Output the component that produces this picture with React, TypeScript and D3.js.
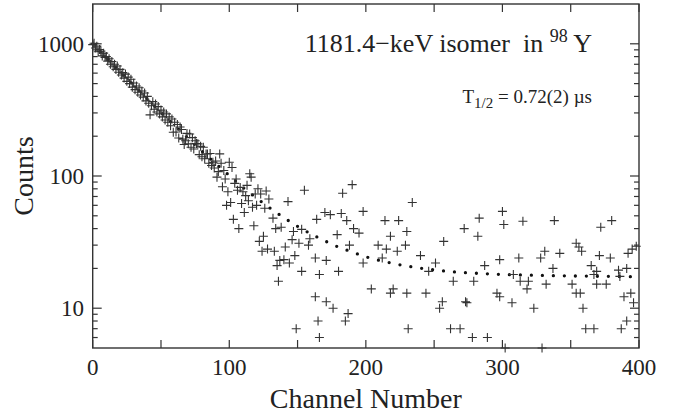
import React from "react";
import * as d3 from "d3";

const W = 684;
const H = 415;

// counts per channel, channels 0..129 (dense decay region)
const decayCounts = [
  985, 1010, 930, 960, 870, 905, 880, 810, 850, 790,
  800, 740, 770, 700, 735, 670, 700, 640, 680, 610,
  640, 580, 605, 550, 590, 520, 560, 500, 540, 470,
  505, 450, 480, 430, 465, 410, 440, 395, 425, 370,
  400, 355, 290, 340, 365, 320, 350, 305, 335, 295,
  315, 280, 305, 265, 295, 255, 280, 240, 270, 214,
  255, 215, 245, 194, 235, 225, 190, 173, 185, 210,
  175, 208, 165, 195, 160, 185, 176, 175, 145, 168,
  140, 165, 135, 147, 147, 125, 148, 120, 127, 115,
  130, 98, 108, 147, 125, 83, 110, 95, 60, 76,
  127, 63, 116, 47, 88, 95, 78, 40, 82, 62,
  76, 53, 71, 85, 65, 104, 98, 58, 42, 73,
  60, 80, 32, 73, 27, 35, 57, 77, 28, 67,
];

// sparse tail region
const tailChannels = [
  132, 134, 138, 147, 153, 146, 159, 151, 158, 141, 133, 148, 137, 140, 135, 144, 136, 153, 143, 155,
  166, 163, 171, 164, 170, 174, 182, 186, 179, 188, 180, 183, 190, 198, 191, 195, 198, 209, 212, 214,
  215, 218, 223, 224, 229, 230, 234, 240, 251, 246, 257, 264, 272, 282, 283, 279, 204, 218, 220, 230,
  244, 256, 254, 273, 163, 171, 176, 187, 165, 185, 149, 166, 231, 262, 269, 278, 289, 302, 329, 307,
  323, 359, 361, 367, 387, 391, 396, 300, 301, 315, 338, 372, 380, 354, 356, 358, 331, 328, 342, 312,
  298, 287, 337, 365, 371, 379, 369, 367, 385, 391, 392, 395, 398, 308, 313, 318, 319, 332, 351, 369,
  376, 386, 296, 354, 357, 394, 274, 298, 389,
];
const tailCounts = [
  48, 40, 41, 38, 39.5, 33, 33.5, 31, 30, 29, 27, 25, 23, 23.3, 21, 22, 16, 19, 64, 78,
  18, 24, 23, 47, 53, 51, 52, 46, 36, 30, 19, 74, 86, 54, 40, 37, 22, 30, 24, 46,
  28, 35, 27, 46, 30, 38, 63, 25, 22, 19, 32, 16, 40, 35, 48, 16, 14, 13, 14, 13,
  13, 11.2, 10, 11.2, 12.2, 11.2, 10, 9.1, 8, 8, 7, 6, 7, 7, 7, 6, 6, 5, 5, 11,
  10, 10, 7, 7, 7, 8, 11, 54, 43, 45.5, 46, 41, 46, 31, 29, 27, 27, 24, 26, 24,
  23.3, 21, 20, 21, 25, 24, 19, 18, 19.4, 20, 26, 28, 29.4, 18, 16, 14, 16, 15.2, 15.2, 15.2,
  15.2, 17.4, 13, 13, 13, 13, 11, 12.2, 12.2,
];

// fitted decay curve
const fitChannels = [0, 10, 20, 30, 40, 50, 60, 70, 80, 90, 100, 110, 120, 130, 140, 150, 160, 170, 180, 190, 200, 220, 240, 260, 280, 300, 320, 340, 360, 380, 400];
const fitCounts = [1000, 785, 617, 486, 383, 303, 241, 192, 154, 124, 101, 82, 68, 57, 48.4, 41.6, 36.4, 32.3, 29, 26.6, 24.5, 21.8, 20.1, 19, 18.4, 18, 17.8, 17.6, 17.5, 17.4, 17.3];

const xTickLabels = [0, 100, 200, 300, 400];
const yTickLabels = [10, 100, 1000];

const L = 92.7, R = 639, T = 4, B = 348;
const ink = "#333";
const textCol = "#222";
const font = "'Liberation Serif', 'Times New Roman', serif";

export default function App() {
  const x = d3.scaleLinear().domain([0, 400]).range([L, R]);
  const y = d3.scaleLog().domain([5, 2000]).range([B, T]);

  const points: [number, number][] = [
    ...decayCounts.map((c, i) => [i, c] as [number, number]),
    ...tailChannels.map((ch, i) => [ch, tailCounts[i]] as [number, number]),
  ];

  const s = 4.5;
  const crossPath = points
    .map(([ch, c]) => {
      const px = x(ch), py = y(c);
      return `M${px - s},${py}H${px + s}M${px},${py - s}V${py + s}`;
    })
    .join("");

  const fitLine = d3
    .line<number>()
    .x((_, i) => x(fitChannels[i]))
    .y((d) => y(d))
    .curve(d3.curveMonotoneX)(fitCounts) as string;

  const xMinor = x.ticks(8);
  const yAll = y.ticks().filter((v) => v > 5 && v < 2000);
  const isMajor = (v: number) => yTickLabels.includes(v);

  return (
    <svg width={W} height={H} style={{ position: "absolute", left: 0, top: 0, background: "#fff" }} fontFamily={font}>
      <rect x={0} y={0} width={W} height={H} fill="#fff" />
      {/* fit curve */}
      <path d={fitLine} fill="none" stroke="#111" strokeWidth={3.3} strokeLinecap="round" strokeDasharray="0 11" />
      {/* data crosses */}
      <path d={crossPath} fill="none" stroke={ink} strokeWidth={1.1} />
      {/* frame */}
      <rect x={L} y={T} width={R - L} height={B - T} fill="none" stroke={ink} strokeWidth={1.4} />
      {/* x ticks bottom & top */}
      {xMinor.map((v) => (
        <g key={"xt" + v}>
          <line x1={x(v)} x2={x(v)} y1={B} y2={B - 8} stroke={ink} strokeWidth={1.2} />
          <line x1={x(v)} x2={x(v)} y1={T} y2={T + 8} stroke={ink} strokeWidth={1.2} />
        </g>
      ))}
      {/* y ticks left & right */}
      {yAll.map((v) => {
        const len = isMajor(v) ? 9 : 5;
        return (
          <g key={"yt" + v}>
            <line x1={L} x2={L + len} y1={y(v)} y2={y(v)} stroke={ink} strokeWidth={1.2} />
            <line x1={R} x2={R - len} y1={y(v)} y2={y(v)} stroke={ink} strokeWidth={1.2} />
          </g>
        );
      })}
      {/* tick labels */}
      {xTickLabels.map((v) => (
        <text key={"xl" + v} x={x(v)} y={375} textAnchor="middle" fontSize={23} fill={textCol}>
          {v}
        </text>
      ))}
      {yTickLabels.map((v) => (
        <text key={"yl" + v} x={84} y={y(v)} dy="0.34em" textAnchor="end" fontSize={23} fill={textCol}>
          {v}
        </text>
      ))}
      {/* axis titles */}
      <text x={(L + R) / 2} y={408} textAnchor="middle" fontSize={28} fill={textCol}>
        Channel Number
      </text>
      <text transform={`translate(33,${(T + B) / 2}) rotate(-90)`} textAnchor="middle" fontSize={28} fill={textCol}>
        Counts
      </text>
      {/* annotations */}
      <text x={592} y={52} textAnchor="end" fontSize={26} fill={textCol} style={{ whiteSpace: "pre" }}>
        {"1181.4\u2212keV isomer  in "}
        <tspan dy={-10} fontSize={18}>98</tspan>
        <tspan dy={10}>{" Y"}</tspan>
      </text>
      <text x={592} y={103} textAnchor="end" fontSize={19} fill={textCol} style={{ whiteSpace: "pre" }}>
        {"T"}
        <tspan dy={5} fontSize={15}>1/2</tspan>
        <tspan dy={-5}>{" = 0.72(2) \u00b5s"}</tspan>
      </text>
    </svg>
  );
}
